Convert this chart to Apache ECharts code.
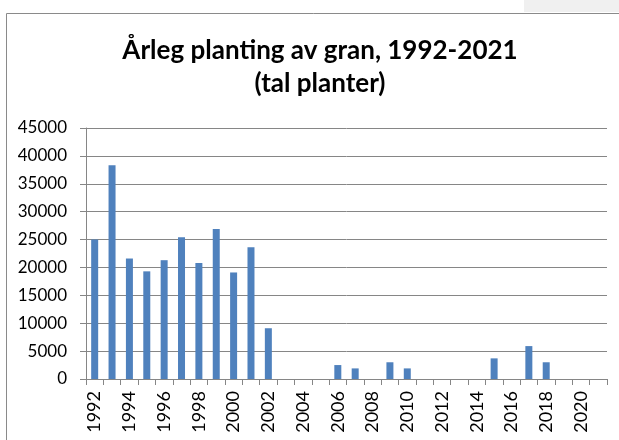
<!DOCTYPE html>
<html>
<head>
<meta charset="utf-8">
<script src="https://cdn.jsdelivr.net/npm/echarts@6/dist/echarts.min.js"></script>
<style>html,body{margin:0;padding:0;background:#fff;}#c{width:619px;height:440px;}</style>
</head>
<body>
<div id="c"></div>
<script>
const years = ['1992','1993','1994','1995','1996','1997','1998','1999','2000','2001','2002','2003','2004','2005','2006','2007','2008','2009','2010','2011','2012','2013','2014','2015','2016','2017','2018','2019','2020','2021'];
const plants = [25000,38300,21600,19300,21300,25400,20800,26900,19100,23600,9100,0,0,0,2500,1900,0,3000,1900,0,0,0,0,3700,0,5900,3000,0,0,0];
const yTicks = {min:0, max:45000, interval:5000};
const titleText = 'Årleg planting av gran, 1992-2021\n(tal planter)';

const chart = echarts.init(document.getElementById('c'), null, {renderer:'canvas'});
chart.setOption({
  animation:false,
  backgroundColor:'#fff',
  graphic:[
    {type:'rect', left:524, top:0, shape:{width:95, height:12}, style:{fill:'#f0f0f0'}, z:0},
    {type:'rect', shape:{x:6.5, y:13.5, width:700, height:500}, style:{fill:'none', stroke:'#8a8a8a', lineWidth:1}, z:0}
  ],
  title:{
    text:titleText,
    left:315, textAlign:'center', top:29,
    textStyle:{fontFamily:'Lato', fontWeight:'bold', fontSize:26, lineHeight:33, color:'#000'}
  },
  grid:{left:86, right:12, top:128, bottom:61, containLabel:false},
  xAxis:{
    type:'category', data:years, boundaryGap:true,
    axisLine:{lineStyle:{color:'#868686', width:1}},
    axisTick:{show:true, alignWithLabel:false, interval:0, length:6, lineStyle:{color:'#868686'}},
    axisLabel:{interval:1, rotate:90, margin:12, fontFamily:'Lato', fontSize:18, color:'#000'},
    splitLine:{show:false}
  },
  yAxis:{
    type:'value', min:yTicks.min, max:yTicks.max, interval:yTicks.interval,
    axisLine:{show:true, lineStyle:{color:'#868686', width:1}},
    axisTick:{show:true, length:6, lineStyle:{color:'#868686'}},
    axisLabel:{margin:19, fontFamily:'Lato', fontSize:17, color:'#000', formatter:(v)=>String(v)},
    splitLine:{show:true, lineStyle:{color:'#868686', width:1}}
  },
  series:[{
    type:'bar', data:plants, barWidth:7,
    itemStyle:{color:'#4f81bd'}
  }]
});
</script>
</body>
</html>
